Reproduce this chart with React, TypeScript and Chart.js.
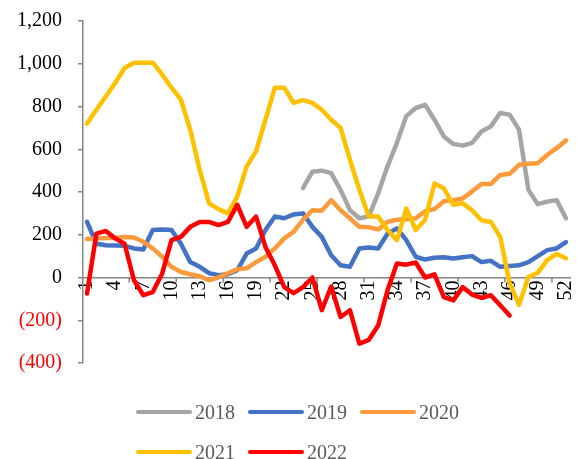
import React, { useEffect, useRef } from 'react';
import { Chart, registerables, Plugin } from 'chart.js';

Chart.register(...registerables);

// 周序号（横轴）
const weeks = [
  1, 2, 3, 4, 5, 6, 7, 8, 9, 10, 11, 12, 13, 14, 15, 16, 17, 18, 19, 20, 21, 22, 23, 24, 25, 26,
  27, 28, 29, 30, 31, 32, 33, 34, 35, 36, 37, 38, 39, 40, 41, 42, 43, 44, 45, 46, 47, 48, 49, 50, 51, 52,
];
const tickWeeks = [1, 4, 7, 10, 13, 16, 19, 22, 25, 28, 31, 34, 37, 40, 43, 46, 49, 52];
// 横轴刻度线（每5周一个，落在两周之间）
const tickMarkWeeks = [5.5, 10.5, 15.5, 20.5, 25.5, 30.5, 35.5, 40.5, 45.5, 50.5];
const yTicks = [-400, -200, 0, 200, 400, 600, 800, 1000, 1200];

const seriesNames = ['2018', '2019', '2020', '2021', '2022'];
const seriesColors = ['#A5A5A5', '#4472C4', '#FF9A3C', '#FFC000', '#FF0000'];

const s2018 = [
  null, null, null, null, null, null, null, null, null, null, null, null, null, null, null, null, null, null,
  null, null, null, null, null,
  418, 495, 500, 488, 410, 315, 277, 285, 393, 520, 630, 755, 793, 808, 738, 660, 625, 617, 630, 683,
  707, 770, 762, 692, 410, 343, 355, 362, 277,
];
const s2019 = [
  260, 158, 151, 150, 148, 136, 131, 222, 225, 222, 158, 72, 50, 20, 11, 15, 34, 112, 136, 222, 285, 277,
  295, 300, 237, 190, 104, 57, 50, 136, 140, 136, 205, 230, 175, 97, 84, 92, 95, 89, 95, 100, 72, 78, 50,
  54, 57, 72, 100, 128, 136, 166,
];
const s2020 = [
  180, 183, 185, 185, 189, 187, 167, 136, 97, 50, 26, 15, 6, -13, 1, 20, 39, 43, 72, 97, 136, 183, 214,
  270, 315, 312, 362, 315, 277, 237, 235, 225, 260, 270, 272, 277, 310, 320, 357, 362, 370, 402, 437, 437,
  480, 485, 527, 532, 535, 573, 605, 641,
];
const s2021 = [
  720, 785, 847, 910, 980, 1005, 1005, 1005, 950, 888, 832, 690, 503, 347, 320, 300, 378, 520, 590, 738,
  888, 888, 817, 830, 817, 785, 738, 700, 550, 410, 285, 285, 222, 175, 323, 222, 270, 440, 417, 340, 347,
  315, 268, 260, 190, -26, -128, 2, 22, 81, 110, 90,
];
const s2022 = [
  -75, 205, 218, 183, 158, -13, -83, -68, 18, 175, 190, 237, 260, 260, 245, 260, 340, 237, 285, 143, 57,
  -45, -73, -45, 0, -153, -42, -185, -153, -310, -292, -225, -60, 65, 60, 70, 0, 15, -92, -107, -45, -80,
  -95, -83, -130, -178,
];
const seriesValues = [s2018, s2019, s2020, s2021, s2022];

const FONT = "'Liberation Serif', 'Times New Roman', serif";
const AXIS_COLOR = '#868686';

const formatTick = (v: number) => {
  const s = Math.abs(v).toLocaleString('en-US');
  return v < 0 ? `(${s})` : s;
};

// 在零轴下方画短刻度线
const xTickMarks: Plugin<'line'> = {
  id: 'xTickMarks',
  beforeDatasetsDraw(chart) {
    const { ctx, scales } = chart;
    const y0 = scales.y.getPixelForValue(0);
    ctx.save();
    ctx.strokeStyle = AXIS_COLOR;
    ctx.lineWidth = 1.5;
    ctx.beginPath();
    tickMarkWeeks.forEach((w) => {
      const x = scales.x.getPixelForValue(w);
      ctx.moveTo(x, y0);
      ctx.lineTo(x, y0 + 5);
    });
    ctx.stroke();
    ctx.restore();
  },
};

const App = () => {
  const canvasRef = useRef<HTMLCanvasElement | null>(null);

  useEffect(() => {
    document.body.style.margin = '0';
    if (!canvasRef.current) return;

    const chart = new Chart(canvasRef.current, {
      type: 'line',
      data: {
        datasets: seriesNames.map((name, i) => ({
          label: name,
          data: weeks.map((w, j) => ({ x: w, y: seriesValues[i][j] ?? null })),
          borderColor: seriesColors[i],
          backgroundColor: seriesColors[i],
          borderWidth: 4.5,
          pointRadius: 0,
          tension: 0,
          borderJoinStyle: 'round' as const,
          borderCapStyle: 'round' as const,
          order: seriesNames.length - i,
        })),
      },
      options: {
        animation: false,
        responsive: true,
        maintainAspectRatio: false,
        layout: { padding: { left: 8, right: 7, top: 21, bottom: 96 } },
        plugins: { legend: { display: false }, tooltip: { enabled: false } },
        scales: {
          x: {
            type: 'linear',
            position: { y: 0 },
            min: 0.574,
            max: 52.43,
            afterBuildTicks: (scale) => {
              scale.ticks = tickWeeks.map((v) => ({ value: v }));
            },
            afterFit: (scale) => {
              scale.paddingLeft = 0;
              scale.paddingRight = 0;
            },
            grid: { display: false, drawTicks: false },
            border: { display: true, color: AXIS_COLOR, width: 1.5 },
            ticks: {
              autoSkip: false,
              minRotation: 90,
              maxRotation: 90,
              padding: 3,
              color: '#000000',
              font: { family: FONT, size: 20 },
              callback: (v) => String(v),
            },
          },
          y: {
            min: -400,
            max: 1200,
            afterFit: (scale) => {
              scale.width = 75;
              scale.paddingTop = 0;
              scale.paddingBottom = 0;
            },
            afterBuildTicks: (scale) => {
              scale.ticks = yTicks.map((v) => ({ value: v }));
            },
            grid: {
              display: true,
              drawOnChartArea: false,
              drawTicks: true,
              tickLength: 5,
              color: AXIS_COLOR,
              lineWidth: 1.5,
            },
            border: { display: true, color: AXIS_COLOR, width: 1.5 },
            ticks: {
              padding: 16,
              font: { family: FONT, size: 20 },
              color: (ctx) => ((ctx.tick?.value ?? 0) < 0 ? '#FF0000' : '#000000'),
              callback: (v) => formatTick(Number(v)),
            },
          },
        },
      },
      plugins: [xTickMarks],
    });

    return () => chart.destroy();
  }, []);

  return (
    <div style={{ position: 'absolute', left: 0, top: 0, width: 577, height: 459, background: '#fff' }}>
      <div style={{ position: 'absolute', inset: 0 }}>
        <canvas ref={canvasRef}></canvas>
      </div>
      <div
        style={{
          position: 'absolute',
          left: 136,
          top: 392,
          display: 'grid',
          gridTemplateColumns: 'repeat(3, 112px)',
          gridAutoRows: '40px',
          alignItems: 'center',
          fontFamily: FONT,
          fontSize: 20,
          color: '#595959',
        }}
      >
        {seriesNames.map((name, i) => (
          <div key={name} style={{ display: 'flex', alignItems: 'center' }}>
            <span
              style={{
                display: 'inline-block',
                width: 56,
                height: 4.5,
                borderRadius: 2.25,
                background: seriesColors[i],
                marginRight: 3,
              }}
            />
            <span>{name}</span>
          </div>
        ))}
      </div>
    </div>
  );
};

export default App;
